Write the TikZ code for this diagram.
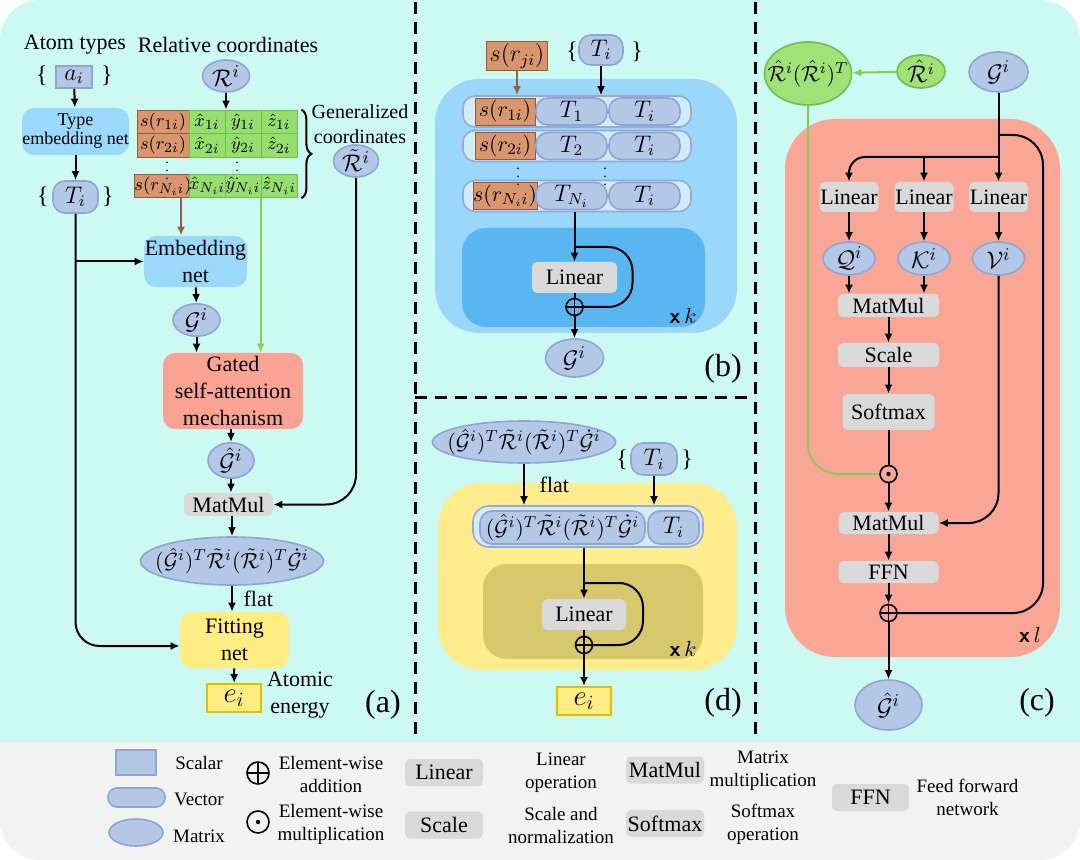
\documentclass[tikz,border=0pt]{standalone}
\usepackage{fontspec}
\setmainfont{Liberation Serif}
\usepackage{amsmath, amssymb}
\usetikzlibrary{shapes.geometric, arrows.meta, positioning, calc, decorations.pathreplacing}

\definecolor{bgcyan}{RGB}{204, 250, 243}
\definecolor{leggrey}{RGB}{242, 242, 242}
\definecolor{matfill}{RGB}{180, 199, 231}
\definecolor{matdraw}{RGB}{143, 165, 210}
\definecolor{netblue}{RGB}{155, 217, 252}
\definecolor{salmon}{RGB}{250, 162, 148}
\definecolor{fityellow}{RGB}{255, 236, 130}
\definecolor{edraw}{RGB}{225, 190, 0}
\definecolor{cellorange}{RGB}{217, 150, 110}
\definecolor{celldraw}{RGB}{140, 95, 60}
\definecolor{cellgreen}{RGB}{150, 222, 110}
\definecolor{greendraw}{RGB}{110, 190, 80}
\definecolor{greenline}{RGB}{140, 200, 90}
\definecolor{brownline}{RGB}{140, 100, 70}
\definecolor{opgrey}{RGB}{217, 217, 217}
\definecolor{bbig}{RGB}{155, 215, 250}
\definecolor{binner}{RGB}{90, 182, 240}
\definecolor{rowfill}{RGB}{210, 235, 250}
\definecolor{rowdraw}{RGB}{150, 170, 215}
\definecolor{dyellow}{RGB}{255, 236, 140}
\definecolor{dinner}{RGB}{215, 200, 110}
\definecolor{csalmon}{RGB}{250, 166, 150}
\definecolor{greenfill}{RGB}{160, 225, 120}

\begin{document}
\begin{tikzpicture}[x=0.5pt, y=-0.5pt,
  font=\fontsize{11}{13.5}\selectfont,
  sz/.style 2 args={minimum width=#1*0.5pt, minimum height=#2*0.5pt},
  mat/.style={ellipse, draw=matdraw, fill=matfill, inner sep=0pt, line width=0.8pt, font=\fontsize{12.5}{12.5}\selectfont},
  vec/.style={rectangle, rounded corners=6pt, draw=matdraw, fill=matfill, inner sep=0pt, line width=0.8pt, font=\fontsize{11.5}{11.5}\selectfont},
  sca/.style={rectangle, draw=matdraw, fill=matfill, inner sep=0pt, line width=0.8pt, font=\fontsize{11.5}{11.5}\selectfont},
  gell/.style={ellipse, draw=greendraw, fill=greenfill, inner sep=0pt, line width=0.8pt, font=\fontsize{12}{12}\selectfont},
  formula/.style={font=\fontsize{11}{11}\selectfont, inner xsep=-6pt},
  opbox/.style={rectangle, rounded corners=2.5pt, fill=opgrey, inner sep=0pt},
  netbox/.style={rectangle, rounded corners=6pt, align=center, inner sep=0pt},
  ocell/.style={rectangle, draw=celldraw, fill=cellorange, inner sep=0pt, sz={52}{23.5}, font=\fontsize{9.5}{9.5}\selectfont},
  gcell/.style={rectangle, draw=greendraw, fill=cellgreen, inner sep=0pt, sz={36}{23.5}, font=\fontsize{9.5}{9.5}\selectfont},
  ebox/.style={rectangle, draw=edraw, fill=fityellow, line width=1pt, inner sep=0pt, sz={54}{28}, font=\fontsize{14}{14}\selectfont},
  arr/.style={line width=1pt, -{Latex[length=4.5pt, width=4pt]}},
  wire/.style={line width=1pt},
  addop/.style={circle, draw, line width=0.8pt, minimum size=8.5pt, inner sep=0pt,
    path picture={\draw[line width=0.8pt] (path picture bounding box.north) -- (path picture bounding box.south)
      (path picture bounding box.west) -- (path picture bounding box.east);}},
  mulop/.style={circle, draw, line width=0.8pt, minimum size=8.5pt, inner sep=0pt,
    path picture={\fill (path picture bounding box.center) circle (1.1pt);}},
  brk/.style={inner sep=0pt, font=\fontsize{12}{12}\selectfont},
  paneltag/.style={font=\fontsize{16}{18}\selectfont},
  legtxt/.style={align=center, font=\fontsize{9.5}{11.5}\selectfont},
  divider/.style={line width=1.5pt, dash pattern=on 6pt off 4pt},
  vdot/.style={inner sep=0pt, font=\fontsize{7}{7}\selectfont}
]
  % backgrounds
  \fill[white] (0,0) rectangle (1080,860);
  \fill[bgcyan, rounded corners=20pt] (0,0) rectangle (1080,800);
  \fill[leggrey, rounded corners=20pt] (0,742) rectangle (1080,860);
  \fill[leggrey] (0,742) rectangle (1080,790);
  \useasboundingbox (0,0) rectangle (1080,860);
  \draw[divider] (415,2) -- (415,740);
  \draw[divider] (755,2) -- (755,740);
  \draw[divider] (415,398) -- (755,398);

  % (a) overall model
  \node (atomlbl) at (75,45) {Atom types};
  \node (rellbl) at (228,45) {Relative coordinates};
  \node[sca, sz={36}{22}] (ai) at (74,77) {$a_i$};
  \node[brk] (ailb) at (42,76) {\{};
  \node[brk] (airb) at (107,76) {\}};
  \node[mat, sz={47}{32}] (Ra) at (226,76) {$\mathcal{R}^i$};
  \node[netbox, fill=netblue, sz={107}{47}, font=\fontsize{9}{9.5}\selectfont] (typenet) at (75.5,131.5) {Type\\embedding net};
  \node[vec, sz={45}{32}] (Ta) at (75.5,197) {$T_i$};
  \node[brk] (talb) at (43,197) {\{};
  \node[brk] (tarb) at (108,197) {\}};
  \foreach \yy/\kk [count=\r] in {121.75/1i, 145.25/2i, 186/N_i i} {
    \node[ocell] (s\r) at (163,\yy) {$s(r_{\kk})$};
    \node[gcell] (x\r) at (207,\yy) {$\hat{x}_{\kk}$};
    \node[gcell] (y\r) at (243,\yy) {$\hat{y}_{\kk}$};
    \node[gcell] (z\r) at (279,\yy) {$\hat{z}_{\kk}$};
  }
  \node[vdot] (adot1) at (167,165) {$\vdots$};
  \node[vdot] (adot2) at (237,165) {$\vdots$};
  \draw[decorate, decoration={brace, amplitude=5pt}, line width=1pt] ([xshift=2pt]z1.north east) -- ([xshift=2pt]z3.south east);
  \node[align=center, font=\fontsize{10}{12.5}\selectfont] (genlbl) at (360,124) {Generalized\\coordinates};
  \node[mat, sz={45}{32}] (Rt) at (356,161) {$\tilde{\mathcal{R}}^i$};
  \node[netbox, fill=netblue, sz={103}{51}] (embnet) at (195.5,261.5) {Embedding\\net};
  \node[mat, sz={47}{30}] (Ga) at (196.5,320) {$\mathcal{G}^i$};
  \node[netbox, fill=salmon, sz={140}{76}] (gate) at (233,391) {Gated\\self-attention\\mechanism};
  \node[mat, sz={46}{31}] (Gha) at (231,460.5) {$\hat{\mathcal{G}}^i$};
  \node[opbox, sz={89}{23}] (mma) at (228.5,504.5) {MatMul};
  \node[mat, formula, sz={182}{48}] (fa) at (232,561) {$(\hat{\mathcal{G}}^i)^T\tilde{\mathcal{R}}^i(\tilde{\mathcal{R}}^i)^T\dot{\mathcal{G}}^i$};
  \node[netbox, fill=fityellow, sz={109}{56}] (fit) at (234.5,640) {Fitting\\net};
  \node[ebox] (ea) at (234,698) {$e_i$};
  \node[align=center] (atomic) at (300,695) {Atomic\\energy};
  \node[paneltag] (taga) at (383,705) {(a)};

  \draw[arr] (ai) -- (typenet);
  \draw[arr] (typenet) -- (Ta);
  \draw[arr] (Ra) -- (Ra |- y1.north);
  \draw[arr, draw=brownline] ([xshift=9pt]s3.south) -- ([xshift=9pt]s3.south |- embnet.north);
  \draw[wire, draw=greenline, -{Latex[length=4.5pt, width=4pt]}] (z3.south west) -- (z3.south west |- gate.north);
  \draw[arr] (Ta |- embnet.west) -- (embnet.west);
  \draw[arr, rounded corners=12pt] (Ta) |- ([yshift=-3pt]fit.west);
  \draw[arr] (embnet) -- (Ga);
  \draw[arr] (Ga) -- (Ga |- gate.north);
  \draw[arr] (Gha |- gate.south) -- (Gha);
  \draw[arr] (Gha) -- (Gha |- mma.north);
  \draw[arr, rounded corners=15pt] (Rt) |- (mma.east);
  \draw[arr] (fa |- mma.south) -- (fa);
  \draw[arr] (fa) -- (fa |- fit.north) node[midway, right, xshift=2pt] (flata) {flat};
  \draw[arr] (fit) -- (ea);

  % (b) embedding net
  \fill[bbig, rounded corners=22pt] (435,79) rectangle (737,333);
  \fill[binner, rounded corners=12pt] (462,228) rectangle (705,327);
  \node[rectangle, draw=celldraw, fill=cellorange, sz={61}{29}, inner sep=0pt, font=\fontsize{12}{12}\selectfont] (srj) at (517,56) {$s(r_{ji})$};
  \node[vec, sz={44}{30}] (Tb) at (601,50) {$T_i$};
  \node[brk] (tblb) at (572,52) {\{};
  \node[brk] (tbrb) at (637,52) {\}};
  \foreach \yy/\kk [count=\r] in {111.5/1, 146/2, 196/N_i} {
    \node[vec, draw=rowdraw, fill=rowfill, sz={228}{31}] (rowb\r) at (577,\yy) {};
    \node[ocell, sz={60}{27}, font=\fontsize{11}{11}\selectfont] (sb\r) at (505,\yy) {$s(r_{\kk i})$};
    \node[vec, sz={71}{27}] (tb\r) at (571.5,\yy) {$T_{\kk}$};
    \node[vec, sz={71}{27}] (tib\r) at (644.5,\yy) {$T_i$};
  }
  \node[vdot] (bdot1) at (518,171) {$\vdots$};
  \node[vdot] (bdot2) at (605,171) {$\vdots$};
  \draw[wire, draw=brownline, -{Latex[length=4.5pt, width=4pt]}] (srj) -- (srj |- rowb1.north);
  \draw[arr] (Tb) -- (Tb |- rowb1.north);
  \node[opbox, sz={85}{31}] (linb) at (574.5,277.5) {Linear};
  \node[addop] (addb) at (574.5,307) {};
  \node[mat, sz={58}{38}] (Gb) at (574.5,358) {$\mathcal{G}^i$};
  \coordinate (splitb) at (574.5,247);
  \draw[arr] (linb |- rowb3.south) -- (linb);
  \draw[wire, rounded corners=12pt] (splitb) -- ++(58,0) |- (addb.east);
  \draw[wire] (linb) -- (addb);
  \draw[arr] (addb) -- (Gb);
  \node (repb) at (683,316) {\textsf{\textbf{x}}\,$k$};
  \node[paneltag] (tagb) at (723,369) {(b)};

  % (d) fitting net
  \fill[dyellow, rounded corners=22pt] (438,483) rectangle (737,670);
  \fill[dinner, rounded corners=12pt] (483,564) rectangle (703,659);
  \node[mat, formula, sz={182}{42}] (fd) at (524,442) {$(\hat{\mathcal{G}}^i)^T\tilde{\mathcal{R}}^i(\tilde{\mathcal{R}}^i)^T\dot{\mathcal{G}}^i$};
  \node[vec, sz={46}{32}] (Td) at (654,459) {$T_i$};
  \node[brk] (tdlb) at (622,460) {\{};
  \node[brk] (tdrb) at (687,460) {\}};
  \node[vec, draw=rowdraw, fill=rowfill, sz={230}{41}, rounded corners=8pt] (rowd) at (588,526.5) {};
  \node[vec, formula, inner xsep=0pt, sz={165}{33}] (fdc) at (562.5,527.5) {$(\hat{\mathcal{G}}^i)^T\tilde{\mathcal{R}}^i(\tilde{\mathcal{R}}^i)^T\dot{\mathcal{G}}^i$};
  \node[vec, sz={51}{33}] (tid) at (673.5,527.5) {$T_i$};
  \draw[arr] (fd) -- (fd |- rowd.north) node[midway, right, xshift=4pt] (flatd) {flat};
  \draw[arr] (Td) -- (Td |- rowd.north);
  \node[opbox, sz={84}{31}] (lind) at (584,614.5) {Linear};
  \node[addop] (addd) at (584,645) {};
  \node[ebox] (ed) at (584,701) {$e_i$};
  \coordinate (splitd) at (584,583);
  \draw[arr] (lind |- rowd.south) -- (lind);
  \draw[wire, rounded corners=12pt] (splitd) -- ++(59,0) |- (addd.east);
  \draw[wire] (lind) -- (addd);
  \draw[arr] (addd) -- (ed);
  \node (repd) at (683,649) {\textsf{\textbf{x}}\,$k$};
  \node[paneltag] (tagd) at (723,703) {(d)};

  % (c) gated self-attention
  \fill[csalmon, rounded corners=25pt] (785,119) rectangle (1060,657);
  \node[gell, sz={87}{63}, inner xsep=-8pt, font=\fontsize{11}{11}\selectfont] (rr) at (808,73.5) {$\hat{\mathcal{R}}^i(\hat{\mathcal{R}}^i)^T$};
  \node[gell, sz={48}{33}] (rh) at (921,71.5) {$\hat{\mathcal{R}}^i$};
  \node[mat, sz={59}{40}] (Gc) at (998.5,72) {$\mathcal{G}^i$};
  \draw[wire, draw=greenline, -{Latex[length=4.5pt, width=4pt]}] (rh) -- (rr);
  \foreach \xx/\nm in {849/linq, 924/link, 998.5/linv}
    \node[opbox, sz={59}{30}] (\nm) at (\xx,197) {Linear};
  \node[mat, sz={52}{33}] (Qc) at (849,258.5) {$\mathcal{Q}^i$};
  \node[mat, sz={52}{33}] (Kc) at (924,258.5) {$\mathcal{K}^i$};
  \node[mat, sz={52}{33}] (Vc) at (998.5,258.5) {$\mathcal{V}^i$};
  \node[opbox, sz={101}{23}] (mmc1) at (888.5,305.5) {MatMul};
  \node[opbox, sz={101}{24}] (scc) at (888.5,355) {Scale};
  \node[opbox, sz={92}{36}] (smc) at (888.5,412) {Softmax};
  \node[mulop] (mulc) at (888.5,474) {};
  \node[opbox, sz={100}{22}] (mmc2) at (888.5,523) {MatMul};
  \node[opbox, sz={100}{22}] (ffn) at (888.5,572) {FFN};
  \node[addop] (addc) at (888.5,613) {};
  \node[mat, sz={67}{50}] (Ghc) at (888.5,705) {$\hat{\mathcal{G}}^i$};
  \coordinate (resc) at (998.5,135);
  \coordinate (splitc) at (998.5,157);
  \draw[arr] (Gc) -- (linv);
  \draw[arr, rounded corners=8pt] (splitc) -| (linq);
  \draw[arr] (splitc -| link) -- (link);
  \draw[wire, rounded corners=15pt] (resc) -- ++(44.5,0) |- (addc.east);
  \draw[arr] (linq) -- (Qc);
  \draw[arr] (link) -- (Kc);
  \draw[arr] (linv) -- (Vc);
  \draw[arr] (Qc) -- (Qc |- mmc1.north);
  \draw[arr] (Kc) -- (Kc |- mmc1.north);
  \draw[arr] (mmc1) -- (scc);
  \draw[arr] (scc) -- (smc);
  \draw[wire] (smc) -- (mulc);
  \draw[wire, draw=greenline, rounded corners=15pt] (rr) |- (mulc.west);
  \draw[arr] (mulc) -- (mmc2);
  \draw[arr, rounded corners=15pt] (Vc) |- (mmc2.east);
  \draw[arr] (mmc2) -- (ffn);
  \draw[arr] (ffn) -- (addc);
  \draw[arr] (addc) -- (Ghc);
  \node (repc) at (1030,635) {\textsf{\textbf{x}}\,$l$};
  \node[paneltag] (tagc) at (1037,703) {(c)};

  % legend
  \node[sca, sz={40}{25}] (lgsca) at (136,762.5) {};
  \node[legtxt] (lgscat) at (199,763) {Scalar};
  \node[vec, rounded corners=4.5pt, sz={57}{19}] (lgvec) at (136.5,797.5) {};
  \node[legtxt] (lgvect) at (199,799) {Vector};
  \node[mat, sz={54}{27}] (lgmat) at (136,832.5) {};
  \node[legtxt] (lgmatt) at (199,836) {Matrix};
  \node[addop, minimum size=11pt] (lgadd) at (258,773) {};
  \node[legtxt] (lgaddt) at (331,774) {Element-wise\\addition};
  \node[mulop, minimum size=11pt] (lgmul) at (258,822) {};
  \node[legtxt] (lgmult) at (331,824) {Element-wise\\multiplication};
  \node[opbox, sz={78}{27}] (lglin) at (444,772.5) {Linear};
  \node[legtxt] (lglint) at (561,773) {Linear\\operation};
  \node[opbox, sz={78}{27}] (lgsc) at (444,825) {Scale};
  \node[legtxt] (lgsct) at (561,825) {Scale and\\normalization};
  \node[opbox, sz={78}{27}] (lgmm) at (665,770) {MatMul};
  \node[legtxt] (lgmmt) at (763,771) {Matrix\\multiplication};
  \node[opbox, sz={78}{27}] (lgsm) at (665,823.5) {Softmax};
  \node[legtxt] (lgsmt) at (763,824) {Softmax\\operation};
  \node[opbox, sz={77}{27}] (lgffn) at (870.5,797.5) {FFN};
  \node[legtxt] (lgffnt) at (967.5,797) {Feed forward\\network};
\end{tikzpicture}
\end{document}
